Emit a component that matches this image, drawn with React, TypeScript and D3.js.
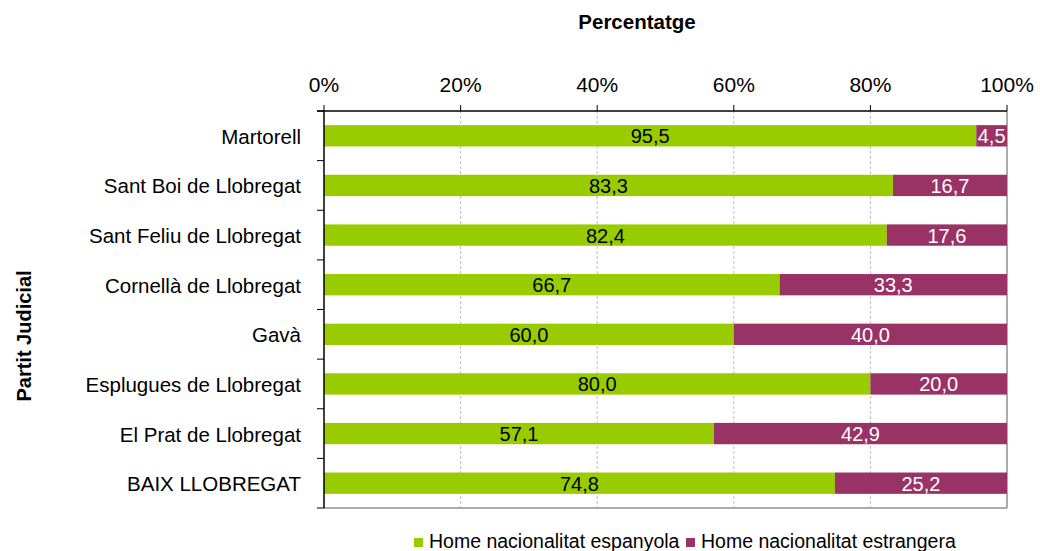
import React from "react";
import * as d3 from "d3";

const categories = [
  "Martorell",
  "Sant Boi de Llobregat",
  "Sant Feliu de Llobregat",
  "Cornellà de Llobregat",
  "Gavà",
  "Esplugues de Llobregat",
  "El Prat de Llobregat",
  "BAIX LLOBREGAT",
];
const espanyola = [95.5, 83.3, 82.4, 66.7, 60.0, 80.0, 57.1, 74.8];
const estrangera = [4.5, 16.7, 17.6, 33.3, 40.0, 20.0, 42.9, 25.2];
const xTicks = [0, 20, 40, 60, 80, 100];
const seriesNames = ["Home nacionalitat espanyola", "Home nacionalitat estrangera"];
const colors = ["#99CC00", "#993366"];

const W = 1040;
const H = 551;
const left = 324;
const right = 1007;
const top = 111;
const bottom = 508;
const FONT = "Liberation Sans, Arial, sans-serif";

export default function App() {
  const x = d3.scaleLinear().domain([0, 100]).range([left, right]);
  const y = d3.scaleBand().domain(categories).range([top, bottom]).paddingInner(0.57).paddingOuter(0.285);
  const yb = d3.scaleBand().domain(categories).range([top, bottom]);
  const fmt = (v: number) => v.toFixed(1).replace(".", ",");

  return (
    <svg width={W} height={H} style={{ position: "absolute", left: 0, top: 0 }} fontFamily={FONT}>
      <rect width={W} height={H} fill="#fff" />
      <text x={637} y={29} textAnchor="middle" fontWeight="bold" fontSize={20.5}>Percentatge</text>
      <text transform={`translate(31,${336}) rotate(-90)`} textAnchor="middle" fontWeight="bold" fontSize={20}>Partit Judicial</text>
      {/* gridlines */}
      {xTicks.slice(1, -1).map((t) => (
        <line key={t} x1={x(t)} x2={x(t)} y1={top} y2={bottom} stroke="#c0c0c0" strokeDasharray="3,2" />
      ))}
      {/* plot border right/bottom */}
      <line x1={right} x2={right} y1={top} y2={bottom} stroke="#909090" strokeWidth={1.5} />
      <line x1={left} x2={right} y1={bottom} y2={bottom} stroke="#909090" strokeWidth={1.5} />
      {/* bars */}
      {categories.map((c, i) => {
        const y0 = y(c)!;
        const h = y.bandwidth();
        const a = espanyola[i];
        const b = estrangera[i];
        const cy = y0 + h / 2;
        return (
          <g key={c}>
            <rect x={x(0)} y={y0} width={x(a) - x(0)} height={h} fill={colors[0]} />
            <rect x={x(a)} y={y0} width={x(a + b) - x(a)} height={h} fill={colors[1]} />
            <text x={(x(0) + x(a)) / 2} y={cy + 7.5} textAnchor="middle" fontSize={20} fill="#000">{fmt(a)}</text>
            <text x={(x(a) + x(a + b)) / 2} y={cy + 7.5} textAnchor="middle" fontSize={20} fill="#fff">{fmt(b)}</text>
            <text x={301} y={cy + 8} textAnchor="end" fontSize={20.5} fill="#000">{c}</text>
          </g>
        );
      })}
      {/* left axis */}
      <line x1={left} x2={left} y1={top} y2={bottom} stroke="#000" strokeWidth={1.5} />
      {categories.map((c) => (
        <line key={c} x1={left - 7} x2={left} y1={yb(c)!} y2={yb(c)!} stroke="#000" />
      ))}
      <line x1={left - 7} x2={left} y1={bottom} y2={bottom} stroke="#000" />
      {/* top axis */}
      <line x1={left - 7} x2={right} y1={top} y2={top} stroke="#000" strokeWidth={1.5} />
      {xTicks.map((t) => (
        <g key={t}>
          <line x1={x(t)} x2={x(t)} y1={top - 6} y2={top} stroke="#000" />
          <text x={x(t)} y={92} textAnchor="middle" fontSize={21}>{t}%</text>
        </g>
      ))}
      {/* legend */}
      {seriesNames.map((s, i) => {
        const lx = i === 0 ? 414 : 686;
        return (
          <g key={s}>
            <rect x={lx} y={538} width={9} height={9} fill={colors[i]} />
            <text x={lx + 15} y={547.5} fontSize={19.5}>{s}</text>
          </g>
        );
      })}
    </svg>
  );
}
